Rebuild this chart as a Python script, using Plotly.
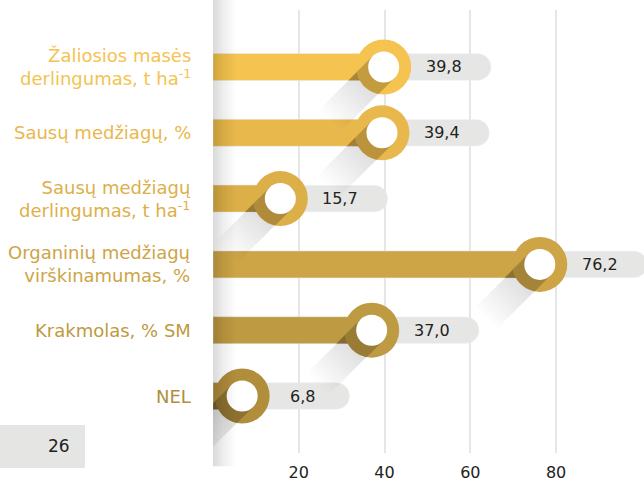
import math

import plotly.graph_objects as go

# duomenys
labels = [
    "Žaliosios masės<br>derlingumas, t ha<sup>-1</sup>",
    "Sausų medžiagų, %",
    "Sausų medžiagų<br>derlingumas, t ha<sup>-1</sup>",
    "Organinių medžiagų<br>virškinamumas, %",
    "Krakmolas, % SM",
    "NEL",
]
values = [39.8, 39.4, 15.7, 76.2, 37.0, 6.8]
colors = ["#F4C350", "#E9B84C", "#DDAF49", "#CDA547", "#BE9A42", "#B18E3C"]
x_ticks = [20, 40, 60, 80]
page_number = "26"

rows = list(range(len(values)))
value_text = [f"{v:.1f}".replace(".", ",") for v in values]

# geometrija (px)
W, H = 644, 481
M_L, M_R, M_T, M_B = 213, 0, 10, 28
X_MAX = 100.5
Y_RANGE = [5.866, -0.866]
plot_w = W - M_L - M_R
plot_h = H - M_T - M_B
px_x = plot_w / X_MAX
px_y = plot_h / (Y_RANGE[0] - Y_RANGE[1])
FONT = "DejaVu Sans"
BAR_PX = 27
RING_R = 27.5
INNER_R = 15.5
S2 = math.sqrt(2)


def to_paper(x_px, y_px):
    return (x_px - M_L) / plot_w, (H - M_B - y_px) / plot_h


def band_pt(along, perp):
    # kryptis 45° žemyn į kairę, statmuo (1,1)/sqrt2
    return (-along / S2 + perp / S2, along / S2 + perp / S2)


def clip(poly, axis, bound, keep_greater):
    out = []
    n = len(poly)
    for i in range(n):
        a, b = poly[i], poly[(i + 1) % n]
        ina = (a[axis] >= bound) if keep_greater else (a[axis] <= bound)
        inb = (b[axis] >= bound) if keep_greater else (b[axis] <= bound)
        if ina:
            out.append(a)
        if ina != inb:
            t = (bound - a[axis]) / (b[axis] - a[axis])
            out.append((a[0] + t * (b[0] - a[0]), a[1] + t * (b[1] - a[1])))
    return out


def poly_trace(v, r, pts, color):
    xs = [v + p[0] / px_x for p in pts] + [v + pts[0][0] / px_x]
    ys = [r + p[1] / px_y for p in pts] + [r + pts[0][1] / px_y]
    return go.Scatter(x=xs, y=ys, mode="lines", fill="toself", fillcolor=color,
                      line=dict(width=0), hoverinfo="skip")


fig = go.Figure()

# pilkos "piliulės" su reikšmėmis
fig.add_trace(go.Bar(
    y=rows, x=[25] * len(values), base=values, orientation="h", width=0.4,
    marker=dict(color="#E6E7E5", cornerradius=13), hoverinfo="skip",
))

# šviesus blunkantis šešėlis ant balto fono
for v, r in zip(values, rows):
    for length in range(20, 80, 5):
        pts = [band_pt(0, INNER_R), band_pt(0, -INNER_R),
               band_pt(length, -INNER_R), band_pt(length, INNER_R)]
        fig.add_trace(poly_trace(v, r, pts, "rgba(0,0,0,0.012)"))

# pagrindiniai stulpeliai
fig.add_trace(go.Bar(
    y=rows, x=values, orientation="h", width=BAR_PX / px_y,
    marker=dict(color=colors), hoverinfo="skip",
))

# tamsus šešėlis ant stulpelio
for v, r in zip(values, rows):
    pts = [band_pt(0, INNER_R), band_pt(0, -INNER_R),
           band_pt(120, -INNER_R), band_pt(120, INNER_R)]
    pts = clip(pts, 1, -BAR_PX / 2, True)
    pts = clip(pts, 1, BAR_PX / 2, False)
    pts = clip(pts, 0, -v * px_x, True)
    if len(pts) > 2:
        fig.add_trace(poly_trace(v, r, pts, "rgba(0,0,0,0.2)"))

# žiedai
fig.add_trace(go.Scatter(
    x=values, y=rows, mode="markers",
    marker=dict(size=2 * RING_R, color=colors, line=dict(width=0)), hoverinfo="skip",
))

# tamsus šešėlis ant žiedo
phi = math.asin(INNER_R / RING_R)
for v, r in zip(values, rows):
    pts = [band_pt(0, INNER_R)]
    for k in range(21):
        a = phi - 2 * phi * k / 20
        pts.append(band_pt(RING_R * math.cos(a), RING_R * math.sin(a)))
    pts.append(band_pt(0, -INNER_R))
    fig.add_trace(poly_trace(v, r, pts, "rgba(0,0,0,0.2)"))

# vidiniai balti apskritimai
fig.add_trace(go.Scatter(
    x=values, y=rows, mode="markers",
    marker=dict(size=2 * INNER_R, color="white", line=dict(width=0)), hoverinfo="skip",
))

annotations = []
for lab, c, r, v, t in zip(labels, colors, rows, values, value_text):
    annotations.append(dict(
        x=0, xref="paper", y=r, yref="y", text=lab, showarrow=False,
        xanchor="right", yanchor="middle", align="right", xshift=-20,
        font=dict(family=FONT, size=18, color=c),
    ))
    annotations.append(dict(
        x=v, xref="x", y=r, yref="y", text=t, showarrow=False,
        xanchor="center", yanchor="middle", xshift=60,
        font=dict(family=FONT, size=16, color="#222222"),
    ))

px0, py0 = to_paper(58.5, 446)
annotations.append(dict(
    x=px0, xref="paper", y=py0, yref="paper", text=page_number, showarrow=False,
    xanchor="center", yanchor="middle", font=dict(family=FONT, size=17, color="#222222"),
))

shapes = []
# puslapio numerio fonas
bx0, by0 = to_paper(0, 468)
bx1, by1 = to_paper(85, 425)
shapes.append(dict(type="rect", xref="paper", yref="paper", x0=bx0, x1=bx1, y0=by0, y1=by1,
                   fillcolor="#E5E6E4", line=dict(width=0), layer="below"))
# kairysis šešėlis (lenkimas)
for w in [2, 4, 6, 8, 10, 13, 16, 19, 22]:
    shapes.append(dict(type="rect", xref="paper", yref="paper", x0=0, x1=w / plot_w,
                       y0=-0.03, y1=1.03, fillcolor="rgba(0,0,0,0.016)",
                       line=dict(width=0), layer="above"))

fig.update_layout(
    width=W, height=H,
    margin=dict(l=M_L, r=M_R, t=M_T, b=M_B),
    paper_bgcolor="white", plot_bgcolor="white",
    barmode="overlay", showlegend=False,
    annotations=annotations, shapes=shapes,
    xaxis=dict(range=[0, X_MAX], tickvals=x_ticks, showgrid=True, gridcolor="#E6E6E6",
               gridwidth=2, zeroline=False, showline=False, ticks="",
               ticklabelstandoff=8,
               tickfont=dict(family=FONT, size=16, color="#222222"), fixedrange=True),
    yaxis=dict(range=Y_RANGE, showgrid=False, zeroline=False, showticklabels=False,
               fixedrange=True),
)

fig.write_html("out.html", config={"displayModeBar": False},
               post_script="document.body.style.margin='0';")
